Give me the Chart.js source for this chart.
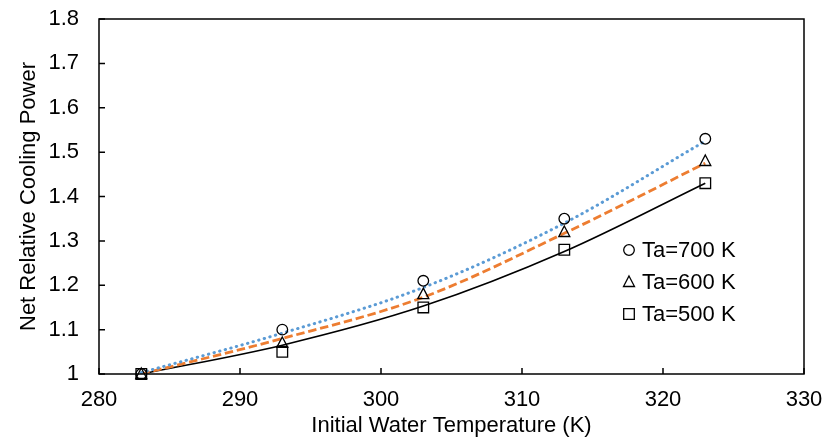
<!DOCTYPE html>
<html>
<head>
<meta charset="utf-8">
<script src="https://cdn.jsdelivr.net/npm/chart.js@4.4.1/dist/chart.umd.min.js"></script>
<style>
  html, body { margin: 0; padding: 0; background: #fff; }
  #wrap { width: 823px; height: 440px; }
</style>
</head>
<body>
<div id="wrap"><canvas id="myChart"></canvas></div>
<script>
// measured points
const temps = [283, 293, 303, 313, 323];
const ta700 = [1.0, 1.10, 1.21, 1.35, 1.53];
const ta600 = [1.0, 1.07, 1.18, 1.32, 1.48];
const ta500 = [1.0, 1.05, 1.15, 1.28, 1.43];

// trend lines
const fit700 = [1.003, 1.092, 1.195, 1.340, 1.525];
const fit600 = [1.0, 1.080, 1.173, 1.317, 1.475];
const fit500 = [1.0, 1.065, 1.153, 1.276, 1.430];

const legendLabels = ["Ta=700 K", "Ta=600 K", "Ta=500 K"];
const markerStyles = ["circle", "triangle", "rect"];

const FONT = "'Liberation Sans', Arial, sans-serif";

function pts(ys) {
  return temps.map((t, i) => ({ x: t, y: ys[i] }));
}

function drawMarker(ctx, style, x, y) {
  ctx.beginPath();
  if (style === "circle") {
    ctx.arc(x, y, 5.3, 0, Math.PI * 2);
  } else if (style === "triangle") {
    ctx.moveTo(x, y - 6);
    ctx.lineTo(x + 5.5, y + 4.5);
    ctx.lineTo(x - 5.5, y + 4.5);
    ctx.closePath();
  } else {
    ctx.rect(x - 5.3, y - 5.3, 10.6, 10.6);
  }
  ctx.stroke();
}

// frame, inward ticks and the in-plot legend
const framePlugin = {
  id: "frame",
  afterDraw(chart) {
    const { ctx, chartArea: a, scales } = chart;
    ctx.save();
    ctx.strokeStyle = "#000";
    ctx.lineWidth = 1.5;
    ctx.strokeRect(a.left, a.top, a.right - a.left, a.bottom - a.top);
    ctx.beginPath();
    scales.x.ticks.forEach((t) => {
      const px = scales.x.getPixelForValue(t.value);
      ctx.moveTo(px, a.bottom);
      ctx.lineTo(px, a.bottom - 6);
    });
    scales.y.ticks.forEach((t) => {
      const py = scales.y.getPixelForValue(t.value);
      ctx.moveTo(a.left, py);
      ctx.lineTo(a.left + 6, py);
    });
    ctx.stroke();

    // legend
    ctx.lineWidth = 1.3;
    ctx.fillStyle = "#000";
    ctx.font = "22px " + FONT;
    ctx.textBaseline = "middle";
    legendLabels.forEach((lab, i) => {
      const y = 250 + i * 32;
      drawMarker(ctx, markerStyles[i], 629, y);
      ctx.fillText(lab, 642, y + 1);
    });
    ctx.restore();
  },
};

// markers drawn on top of trend lines
const markerPlugin = {
  id: "markers",
  afterDatasetsDraw(chart) {
    const { ctx, scales } = chart;
    const series = [ta700, ta600, ta500];
    ctx.save();
    ctx.strokeStyle = "#000";
    ctx.lineWidth = 1.3;
    series.forEach((ys, s) => {
      temps.forEach((t, i) => {
        drawMarker(ctx, markerStyles[s], scales.x.getPixelForValue(t), scales.y.getPixelForValue(ys[i]));
      });
    });
    ctx.restore();
  },
};

const ctx = document.getElementById("myChart").getContext("2d");
new Chart(ctx, {
  type: "scatter",
  data: {
    datasets: [
      { label: "Ta=700 K", data: pts(ta700), showLine: false, pointRadius: 0 },
      { label: "Ta=600 K", data: pts(ta600), showLine: false, pointRadius: 0 },
      { label: "Ta=500 K", data: pts(ta500), showLine: false, pointRadius: 0 },
      {
        label: "fit 700",
        data: pts(fit700),
        showLine: true,
        pointRadius: 0,
        borderColor: "#5B9BD5",
        borderWidth: 3,
        borderDash: [0.4, 5.4],
        borderCapStyle: "round",
        cubicInterpolationMode: "monotone",
      },
      {
        label: "fit 600",
        data: pts(fit600),
        showLine: true,
        pointRadius: 0,
        borderColor: "#ED7D31",
        borderWidth: 2.8,
        borderDash: [8.5, 3.8],
        cubicInterpolationMode: "monotone",
      },
      {
        label: "fit 500",
        data: pts(fit500),
        showLine: true,
        pointRadius: 0,
        borderColor: "#000000",
        borderWidth: 1.6,
        cubicInterpolationMode: "monotone",
      },
    ],
  },
  options: {
    responsive: true,
    maintainAspectRatio: false,
    animation: false,
    layout: { padding: { top: 19, right: 19, left: 0, bottom: 0 } },
    plugins: {
      legend: { display: false },
      tooltip: { enabled: false },
    },
    scales: {
      x: {
        type: "linear",
        min: 280,
        max: 330,
        ticks: { stepSize: 10, color: "#000", font: { size: 22, family: FONT }, padding: 13, maxRotation: 0 },
        grid: { display: false, drawTicks: false },
        border: { display: false },
        title: {
          display: true,
          text: "Initial Water Temperature (K)",
          color: "#000",
          font: { size: 22, family: FONT },
          padding: { top: 0, bottom: 1 },
        },
        afterFit(scale) {
          scale.height = 66;
          scale.paddingLeft = 0;
          scale.paddingRight = 0;
        },
      },
      y: {
        min: 1,
        max: 1.8,
        ticks: {
          stepSize: 0.1,
          color: "#000",
          font: { size: 22, family: FONT },
          padding: 20,
          callback: (v) => String(Math.round(v * 10) / 10),
        },
        grid: { display: false, drawTicks: false },
        border: { display: false },
        title: {
          display: true,
          text: "Net Relative Cooling Power",
          color: "#000",
          font: { size: 22, family: FONT },
          padding: { top: 16, bottom: 0 },
        },
        afterFit(scale) {
          scale.width = 99;
          scale.paddingTop = 0;
          scale.paddingBottom = 0;
        },
      },
    },
  },
  plugins: [markerPlugin, framePlugin],
});
</script>
</body>
</html>
